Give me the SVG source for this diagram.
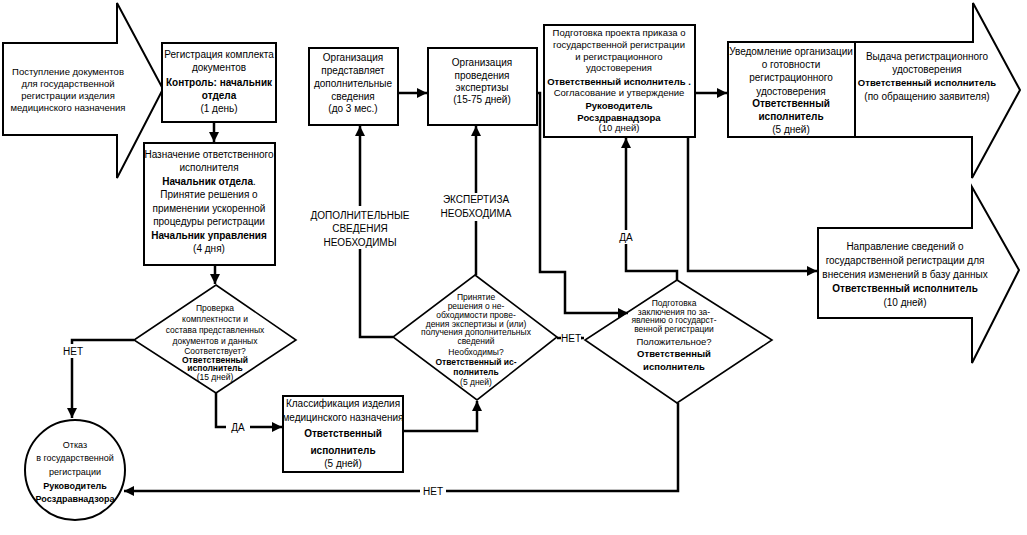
<svg xmlns="http://www.w3.org/2000/svg" width="1027" height="535" viewBox="0 0 1027 535">
<defs>
<style>
.t{font-family:"Liberation Sans Narrow","Arial Narrow","Liberation Sans",Arial,sans-serif;font-size:10px;text-anchor:middle;fill:#000}
.s{font-size:9.5px}
.d{font-size:8.5px}
.n{font-size:9px}
.b{font-weight:bold}
.box{fill:#fff;stroke:#000;stroke-width:2}
.blk{fill:#fff;stroke:#000;stroke-width:2;stroke-linejoin:miter}
.dia{fill:#fff;stroke:#000;stroke-width:1.6}
.c{fill:none;stroke:#000;stroke-width:2.5}
.lbl{fill:#fff;stroke:none}
</style>
<marker id="ah" viewBox="0 0 10 10" refX="10" refY="5" markerWidth="4" markerHeight="4" orient="auto" markerUnits="strokeWidth">
<path d="M0,0 L10,5 L0,10 Z" fill="#000"/>
</marker>
</defs>
<rect width="1027" height="535" fill="#fff"/>

<g id="node-intake">
<path class="blk" d="M3,43 H117 V3 L163,89 L117,178 V135 H3 Z"/>
<text class="t s" x="68" y="75">Поступление документов</text>
<text class="t s" x="68" y="87">для государственной</text>
<text class="t s" x="68" y="99">регистрации изделия</text>
<text class="t s" x="68" y="111">медицинского назначения</text>
</g>

<g id="node-issue">
<path class="blk" d="M855,42 H973 V3 L1020,90 L972,178 V137 H855 Z"/>
<text class="t" x="927" y="60">Выдача регистрационного</text>
<text class="t" x="927" y="73">удостоверения</text>
<text class="t b s" x="927" y="86">Ответственный исполнитель</text>
<text class="t" x="927" y="100">(по обращению заявителя)</text>
</g>

<g id="node-database">
<path class="blk" d="M818,228 H972 V187 L1019,270 L972,363 V318 H818 Z"/>
<text class="t" x="905" y="250">Направление сведений о</text>
<text class="t" x="905" y="264">государственной регистрации для</text>
<text class="t" x="905" y="278">внесения изменений в базу данных</text>
<text class="t b" x="905" y="292">Ответственный исполнитель</text>
<text class="t" x="905" y="306">(10 дней)</text>
</g>

<g id="node-register">
<rect class="box" x="162" y="43" width="114" height="79"/>
<text class="t" x="219" y="58">Регистрация комплекта</text>
<text class="t" x="219" y="71">документов</text>
<text class="t b" x="219" y="86">Контроль: начальник</text>
<text class="t b" x="219" y="99">отдела</text>
<text class="t" x="219" y="112">(1 день)</text>
</g>

<g id="node-assign">
<rect class="box" x="144" y="143" width="131" height="122"/>
<text class="t" x="209" y="158">Назначение ответственного</text>
<text class="t" x="209" y="171">исполнителя</text>
<text class="t" x="209" y="185"><tspan class="b">Начальник отдела</tspan>.</text>
<text class="t" x="209" y="198">Принятие решения о</text>
<text class="t" x="209" y="212">применении ускоренной</text>
<text class="t" x="209" y="225">процедуры регистрации</text>
<text class="t b" x="209" y="239">Начальник управления</text>
<text class="t" x="209" y="252">(4 дня)</text>
</g>

<g id="node-check">
<path class="dia" d="M216,285 L296,340 L216,393 L134,340 Z"/>
<text class="t d" x="215" y="311">Проверка</text>
<text class="t d" x="215" y="322">комплектности и</text>
<text class="t d" x="215" y="333">состава представленных</text>
<text class="t d" x="215" y="344">документов  и данных</text>
<text class="t d" x="215" y="354">Соответствует?</text>
<text class="t d b" x="215" y="363">Ответственный</text>
<text class="t d b" x="215" y="371">исполнитель</text>
<text class="t d" x="215" y="380">(15 дней)</text>
</g>

<g id="node-refusal">
<circle class="box" cx="75" cy="470" r="50"/>
<text class="t n" x="75" y="448">Отказ</text>
<text class="t n" x="75" y="461">в государственной</text>
<text class="t n" x="75" y="475">регистрации</text>
<text class="t n b" x="75" y="489">Руководитель</text>
<text class="t n b" x="75" y="502">Росздравнадзора</text>
</g>

<g id="node-classify">
<rect class="box" x="283" y="396" width="120" height="76"/>
<text class="t" x="343" y="407">Классификация изделия</text>
<text class="t" x="343" y="421">медицинского назначения</text>
<text class="t b" x="343" y="437">Ответственный</text>
<text class="t b" x="343" y="454">исполнитель</text>
<text class="t" x="343" y="467">(5 дней)</text>
</g>

<g id="node-extra">
<rect class="box" x="309" y="48" width="89" height="77"/>
<text class="t" x="353" y="61">Организация</text>
<text class="t" x="353" y="74">представляет</text>
<text class="t" x="353" y="87">дополнительные</text>
<text class="t" x="353" y="100">сведения</text>
<text class="t" x="353" y="112">(до 3 мес.)</text>
</g>

<g id="node-expertise">
<rect class="box" x="428" y="48" width="109" height="77"/>
<text class="t" x="482" y="66">Организация</text>
<text class="t" x="482" y="79">проведения</text>
<text class="t" x="482" y="91">экспертизы</text>
<text class="t" x="482" y="103">(15-75 дней)</text>
</g>

<g id="node-decision">
<path class="dia" d="M475,275 L557,337 L477,400 L393,337 Z"/>
<text class="t d" x="476" y="300">Принятие</text>
<text class="t d" x="476" y="309">решения о не-</text>
<text class="t d" x="476" y="318">обходимости прове-</text>
<text class="t d" x="476" y="327">дения экспертизы и (или)</text>
<text class="t d" x="476" y="335">получения дополнительных</text>
<text class="t d" x="476" y="344">сведений</text>
<text class="t d" x="476" y="355">Необходимы?</text>
<text class="t d" x="476" y="365"><tspan class="b">Ответственный</tspan> <tspan class="b">ис-</tspan></text>
<text class="t d b" x="476" y="375">полнитель</text>
<text class="t d" x="476" y="385">(5 дней)</text>
</g>

<g id="node-conclusion">
<path class="dia" d="M677,280 L772,340 L677,403 L585,340 Z"/>
<text class="t d" x="674" y="306">Подготовка</text>
<text class="t d" x="674" y="315">заключения по за-</text>
<text class="t d" x="674" y="323">явлению о государст-</text>
<text class="t d" x="674" y="332">венной регистрации</text>
<text class="t s" x="674" y="345">Положительное?</text>
<text class="t s b" x="674" y="357">Ответственный</text>
<text class="t s b" x="674" y="370">исполнитель</text>
</g>

<g id="node-order">
<rect class="box" x="544" y="25" width="151" height="112"/>
<text class="t s" x="619" y="36">Подготовка проекта приказа о</text>
<text class="t s" x="619" y="48">государственной регистрации</text>
<text class="t s" x="619" y="60">и регистрационного</text>
<text class="t s" x="619" y="71">удостоверения</text>
<text class="t s b" x="619" y="85">Ответственный исполнитель .</text>
<text class="t s" x="619" y="96">Согласование и утверждение</text>
<text class="t s b" x="619" y="109">Руководитель</text>
<text class="t s b" x="619" y="121">Росздравнадзора</text>
<text class="t s" x="619" y="131">(10 дней)</text>
</g>

<g id="node-notify">
<rect class="box" x="728" y="42" width="127" height="95"/>
<text class="t" x="791" y="55">Уведомление организации</text>
<text class="t" x="791" y="68">о готовности</text>
<text class="t" x="791" y="81">регистрационного</text>
<text class="t" x="791" y="95">удостоверения</text>
<text class="t b" x="791" y="107">Ответственный</text>
<text class="t b" x="791" y="120">исполнитель</text>
<text class="t" x="791" y="133">(5 дней)</text>
</g>

<g id="connectors">
<path class="c" d="M214,122 V142" marker-end="url(#ah)"/>
<path class="c" d="M215,265 V284" marker-end="url(#ah)"/>
<path class="c" d="M134,340 H72 V418" marker-end="url(#ah)"/>
<path class="c" d="M216,393 V427 H282" marker-end="url(#ah)"/>
<path class="c" d="M403,431 H477 V401" marker-end="url(#ah)"/>
<path class="c" d="M393,337 H360 V126" marker-end="url(#ah)"/>
<path class="c" d="M476,275 V126" marker-end="url(#ah)"/>
<path class="c" d="M398,93 H427" marker-end="url(#ah)"/>
<path class="c" d="M537,93 H540 V272 H565 V313 H628" marker-end="url(#ah)"/>
<path class="c" d="M557,338 H584" marker-end="url(#ah)"/>
<path class="c" d="M677,280 V271 H626 V138" marker-end="url(#ah)"/>
<path class="c" d="M688,137 V271 H817" marker-end="url(#ah)"/>
<path class="c" d="M695,93 H727" marker-end="url(#ah)"/>
<path class="c" d="M678,403 V491 H124" marker-end="url(#ah)"/>
<rect class="lbl" x="60" y="344" width="26" height="14"/>
<text class="t" x="73" y="355">НЕТ</text>
<rect class="lbl" x="226" y="420" width="24" height="14"/>
<text class="t" x="238" y="431">ДА</text>
<rect class="lbl" x="310" y="206" width="100" height="43"/>
<text class="t" x="360" y="219">ДОПОЛНИТЕЛЬНЫЕ</text>
<text class="t" x="360" y="232">СВЕДЕНИЯ</text>
<text class="t" x="360" y="246">НЕОБХОДИМЫ</text>
<rect class="lbl" x="440" y="193" width="72" height="28"/>
<text class="t" x="476" y="203">ЭКСПЕРТИЗА</text>
<text class="t" x="476" y="217">НЕОБХОДИМА</text>
<rect class="lbl" x="561" y="332" width="20" height="12"/>
<text class="t" x="571" y="342">НЕТ</text>
<rect class="lbl" x="614" y="230" width="24" height="14"/>
<text class="t" x="626" y="241">ДА</text>
<rect class="lbl" x="420" y="484" width="26" height="14"/>
<text class="t" x="433" y="495">НЕТ</text>
</g>
</svg>
